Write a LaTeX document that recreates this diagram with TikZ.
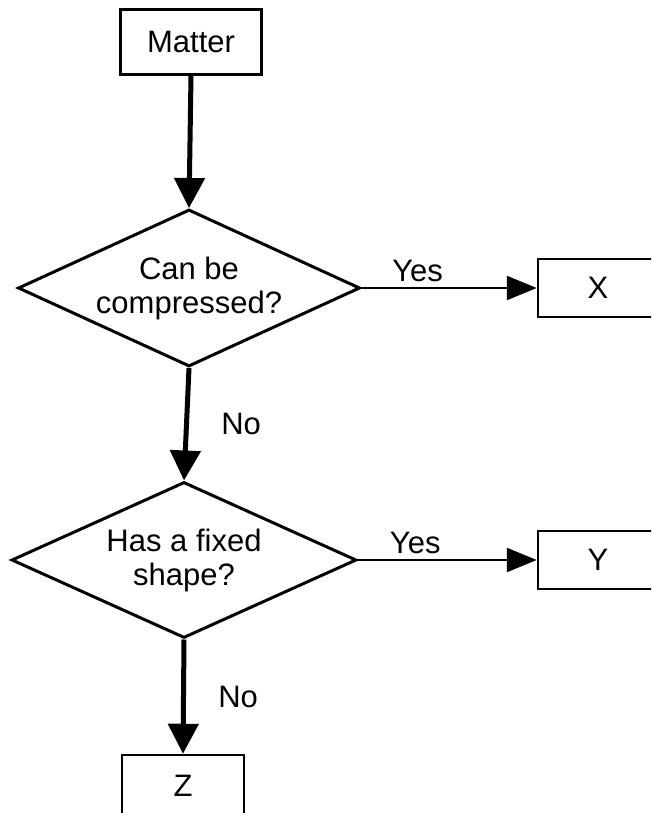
\documentclass[tikz,border=0pt]{standalone}
\usepackage{fontspec}
\setmainfont{Liberation Sans}
\usetikzlibrary{shapes.geometric,arrows.meta}

\tikzset{
  box/.style={draw, line width=2.5pt, minimum height=58pt},
  test/.style={draw, diamond, line width=3pt, aspect=2.2, inner sep=0pt, align=center},
  down/.style={line width=5pt, -{Triangle[length=30pt,width=30pt]}},
  across/.style={line width=2.5pt, -{Triangle[length=30pt,width=24pt]}},
}

\begin{document}
\begin{tikzpicture}[x=1pt,y=-1pt,font=\fontsize{31}{34}\selectfont]
\useasboundingbox (0,0) rectangle (651,813);
\clip (0,0) rectangle (651,813);

\node [box, minimum width=141pt, minimum height=65pt] (matter) at (191,42) {Matter};

\node [test, minimum width=342pt, minimum height=157pt] (d1) at (189,288) {Can be\\compressed?};
\node [box, minimum width=120pt] (x) at (598,288) {X};

\node [test, minimum width=345pt, minimum height=156pt] (d2) at (184,560) {Has a fixed\\shape?};
\node [box, minimum width=120pt] (y) at (598,560) {Y};

\node [box, minimum width=122pt, minimum height=62pt] (z) at (183,786) {Z};

\draw [down] (matter.south) -- (d1.north);
\draw [across] (d1.east) -- (x.west) node [pos=0.32, above=2pt] {Yes};
\draw [down] (d1.south) -- (d2.north) node [midway, right=29pt] {No};
\draw [across] (d2.east) -- (y.west) node [pos=0.32, above=2pt] {Yes};
\draw [down] (d2.south) -- (z.north) node [midway, right=29pt] {No};
\end{tikzpicture}
\end{document}
